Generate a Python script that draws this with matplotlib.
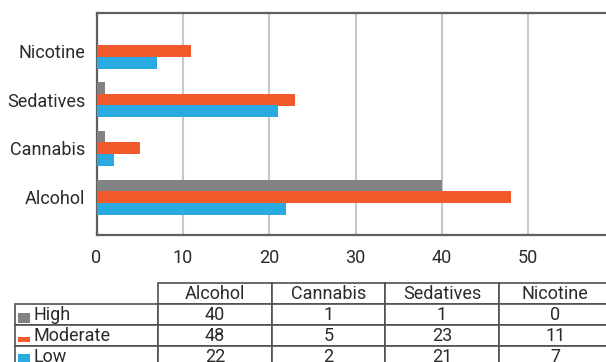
import numpy as np
import matplotlib.pyplot as plt
from matplotlib.patches import Rectangle

plt.rcParams['font.family'] = ['Roboto', 'DejaVu Sans']

substances = ['Alcohol', 'Cannabis', 'Sedatives', 'Nicotine']
levels = ['High', 'Moderate', 'Low']
high = [40, 1, 1, 0]
moderate = [48, 5, 23, 11]
low = [22, 2, 21, 7]
colors = ['#838386', '#f15a2b', '#29abe2']
x_ticks = [0, 10, 20, 30, 40, 50]

W, H = 606, 362
fig = plt.figure(figsize=(W / 100, H / 100), dpi=100)

# bar chart area (pixel positions from the reference)
left_px, right_px, top_px, bot_px = 96.5, 614.5, 13, 235
ax = fig.add_axes([left_px / W, 1 - bot_px / H,
                   (right_px - left_px) / W, (bot_px - top_px) / H])

y = np.arange(len(substances))
h = 0.24
for vals, off, c in zip([high, moderate, low], [h, 0, -h], colors):
    ax.barh(y + off, vals, height=h, color=c, zorder=3)

ax.set_xlim(0, 60)
ax.set_ylim(-0.78, 3.78)
ax.set_xticks(x_ticks)
ax.set_yticks(y)
ax.set_yticklabels(substances)
ax.tick_params(length=0, labelsize=13, colors='#2a2a2a')
ax.tick_params(axis='x', pad=10)
ax.tick_params(axis='y', pad=8)
ax.grid(axis='x', color='#c8c8c8', linewidth=1.5, zorder=0)
for s in ['left', 'bottom', 'top']:
    ax.spines[s].set_color('#606060')
    ax.spines[s].set_linewidth(1.6)
ax.spines['right'].set_visible(False)

# data table below the chart
tab_left, tab_right, tab_top, row_h = 14.7, 612, 283.3, 21
n_rows = 4
tax = fig.add_axes([tab_left / W, 1 - (tab_top + n_rows * row_h) / H,
                    (tab_right - tab_left) / W, n_rows * row_h / H])
tax.axis('off')

cell_text = [[lab] + [str(v) for v in vals]
             for lab, vals in zip(levels, [high, moderate, low])]
lab_w = 158.5 - tab_left
col_w = (tab_right - 158.5) / 4
widths = [lab_w] + [col_w] * 4
widths = [w / sum(widths) for w in widths]
tbl = tax.table(cellText=cell_text, colLabels=[''] + substances,
                colWidths=widths, cellLoc='center', bbox=[0, 0, 1, 1])
tbl.auto_set_font_size(False)
tbl.set_fontsize(13)
for (r, c), cell in tbl.get_celld().items():
    cell.set_edgecolor('#505050')
    cell.set_linewidth(1.2)
    cell.get_text().set_color('#2a2a2a')
    if c == 0:
        cell.get_text().set_ha('left')
        cell.PAD = 0.13
    if r == 0 and c == 0:
        cell.visible_edges = ''

# colour swatches in the row labels
sw = [(313, 10), (337, 4.5), (354, 10)]
for (y0, hh), c in zip(sw, colors):
    fig.add_artist(Rectangle((17.5 / W, 1 - (y0 + hh) / H), 12.5 / W, hh / H,
                             transform=fig.transFigure, color=c, lw=0))

fig.savefig('out.png', dpi=100)
